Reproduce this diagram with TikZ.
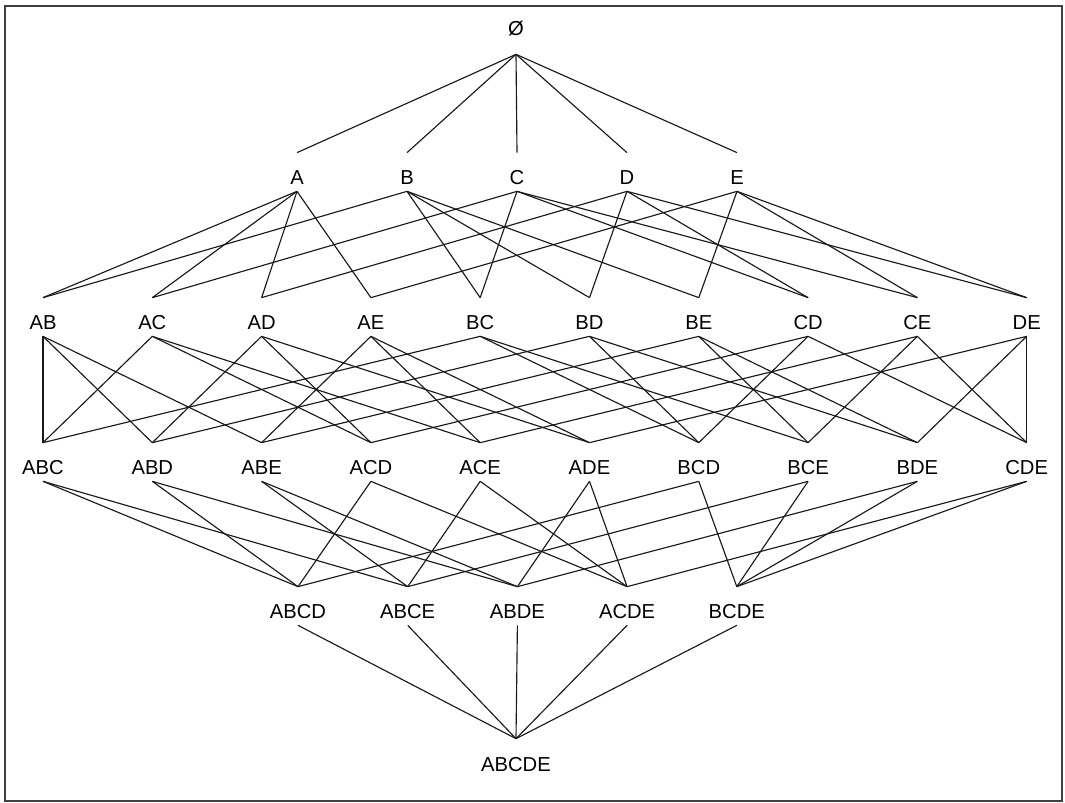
\documentclass[tikz,border=0pt]{standalone}
\usepackage{fontspec}
\setmainfont{Liberation Sans}
\usepackage{tikz}
\tikzstyle{set} = [inner sep=0pt,text height=0.64cm,text depth=0.12cm,anchor=base,font=\fontsize{11.5}{13}\selectfont]
\tikzstyle{emptyset} = [set,text depth=0.36cm]
\tikzstyle{link} = [line width=0.65pt,draw=black!90]
\tikzstyle{frame} = [line width=0.7pt,draw=black!75]

\begin{document}
\begin{tikzpicture}[x=0.02cm,y=-0.02cm]
    \useasboundingbox (0,0) rectangle (1065,803);
    \path[frame] (5,6) rectangle (1062,801);
    % the sets, one row per size
    \node[emptyset] (O) at (516,36) {Ø};
    \foreach \s [count=\i from 0] in {A,B,C,D,E} {
        \node[set] (\s) at (297+110*\i,185) {\s};
    }
    \foreach \s [count=\i from 0] in {AB,AC,AD,AE,BC,BD,BE,CD,CE,DE} {
        \node[set] (\s) at (43+109.3*\i,330) {\s};
    }
    \foreach \s [count=\i from 0] in {ABC,ABD,ABE,ACD,ACE,ADE,BCD,BCE,BDE,CDE} {
        \node[set] (\s) at (43+109.3*\i,475) {\s};
    }
    \foreach \s [count=\i from 0] in {ABCD,ABCE,ABDE,ACDE,BCDE} {
        \node[set] (\s) at (298+109.7*\i,619) {\s};
    }
    \node[set] (ABCDE) at (516,771) {ABCDE};
    % edges: each set to the sets with one more item
    \foreach \s in {A,B,C,D,E} {
        \path[link] (O.south) -- (\s.north);
    }
    \foreach \s/\a/\b in {AB/A/B,AC/A/C,AD/A/D,AE/A/E,BC/B/C,BD/B/D,BE/B/E,CD/C/D,CE/C/E,DE/D/E} {
        \path[link] (\a.south) -- (\s.north);
        \path[link] (\b.south) -- (\s.north);
    }
    \foreach \s/\a/\b/\c in {ABC/AB/AC/BC,ABD/AB/AD/BD,ABE/AB/AE/BE,ACD/AC/AD/CD,ACE/AC/AE/CE,
                             ADE/AD/AE/DE,BCD/BC/BD/CD,BCE/BC/BE/CE,BDE/BD/BE/DE,CDE/CD/CE/DE} {
        \path[link] (\a.south) -- (\s.north);
        \path[link] (\b.south) -- (\s.north);
        \path[link] (\c.south) -- (\s.north);
    }
    \foreach \s/\a/\b/\c/\d in {ABCD/ABC/ABD/ACD/BCD,ABCE/ABC/ABE/ACE/BCE,ABDE/ABD/ABE/ADE/BDE,
                                ACDE/ACD/ACE/ADE/CDE,BCDE/BCD/BCE/BDE/CDE} {
        \path[link] (\a.south) -- (\s.north);
        \path[link] (\b.south) -- (\s.north);
        \path[link] (\c.south) -- (\s.north);
        \path[link] (\d.south) -- (\s.north);
    }
    \foreach \s in {ABCD,ABCE,ABDE,ACDE,BCDE} {
        \path[link] (\s.south) -- (ABCDE.north);
    }
\end{tikzpicture}
\end{document}
